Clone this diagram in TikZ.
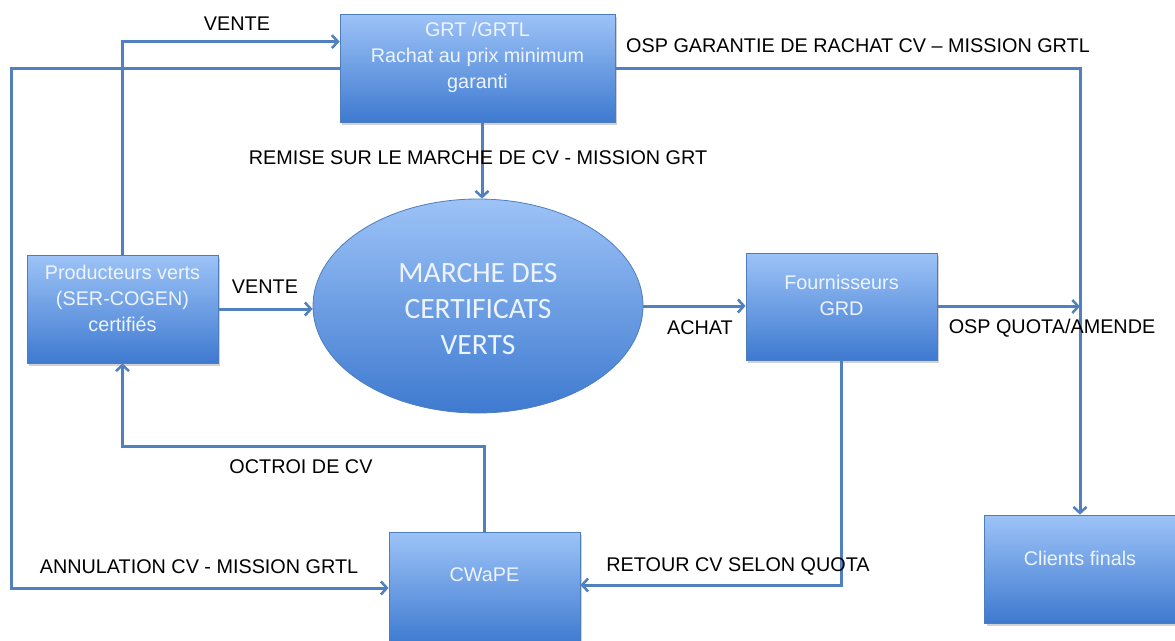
\documentclass[tikz,border=0pt]{standalone}
\usepackage{fontspec}
\setmainfont{Liberation Sans}
\newfontfamily\marketfont{Carlito}
\usetikzlibrary{positioning,shapes.geometric,shadows,arrows.meta}

\definecolor{boxtop}{HTML}{9DC3F7}
\definecolor{boxbottom}{HTML}{3E7AD0}
\definecolor{boxline}{HTML}{4D7EBB}
\definecolor{boxtext}{HTML}{EEF4FF}
\definecolor{flowline}{HTML}{5080BE}

\begin{document}
\begin{tikzpicture}
  [x=1pt, y=-1pt,
   font=\fontsize{19.8}{24}\selectfont,
   box/.style={draw=boxline, line width=0.8pt, top color=boxtop, bottom color=boxbottom,
               drop shadow={shadow xshift=2pt, shadow yshift=-3pt, opacity=0.3, fill=black!60},
               minimum width=191pt, minimum height=108pt, inner sep=0pt},
   box text/.style={text=boxtext, align=center, font=\fontsize{19.8}{26}\selectfont, inner sep=0pt},
   flow/.style={draw=flowline, line width=3pt, >={Straight Barb[length=6pt, width=13pt, line width=2.5pt]}, ->},
   flow label/.style={text=black, inner sep=0pt}]

  \useasboundingbox (0,0) rectangle (1175,640);

  % boxes
  \node [box, minimum width=275pt] (grt) at (477.5,68) {};
  \node [box text] (grt-text) at ([yshift=11pt]grt.center) {GRT /GRTL\\Rachat au prix minimum\\garanti};

  \node [box] (prod) at (122.5,309) {};
  \node [box text] (prod-text) at ([yshift=11pt]prod.center) {Producteurs verts\\(SER-COGEN)\\certifiés};

  \node [box, minimum height=107pt] (fourn) at (841.5,306.5) {};
  \node [box text] (fourn-text) at ([yshift=11pt]fourn.center) {Fournisseurs\\GRD};

  \node [box, minimum height=112pt] (cwape) at (484.5,588) {};
  \node [box text] (cwape-text) at ([yshift=13pt]cwape.center) {CWaPE};

  \node [box] (clients) at (1080,569) {};
  \node [box text] (clients-text) at ([yshift=11pt]clients.center) {Clients finals};

  \node [ellipse, draw=boxline, line width=0.8pt, top color=boxtop, bottom color=boxbottom,
         minimum width=330pt, minimum height=214pt, inner sep=0pt] (market) at (478,306) {};
  \node [box text, font=\marketfont\fontsize{29.5}{36}\selectfont] (market-text)
        at ([yshift=-3pt]market.center) {MARCHE DES\\CERTIFICATS\\VERTS};

  % flows
  \draw [flow] (prod.north) |- ([yshift=-28pt]grt.north west);
  \draw [flow] (grt.west) -- ++(-328,0) |- (cwape.west);
  \draw [flow] (grt.east) -| (clients.north);
  \draw [flow] ([xshift=4.5pt]grt.south) -- ([xshift=4pt]market.north);
  \draw [flow] (prod.east) -- (prod.east -| market.west);
  \draw [flow] (market.east) -- (market.east -| fourn.west);
  \draw [flow] (fourn.east) -- (fourn.east -| clients.north);
  \draw [flow] (fourn.south) |- ([yshift=3pt]cwape.east);
  \draw [flow] (cwape.north) -- ++(0,-85) -| (prod.south);

  % labels
  \node [flow label] (l-vente-grt)  at (237,24)  {VENTE};
  \node [flow label] (l-osp-rachat) at (858,46)  {OSP GARANTIE DE RACHAT CV – MISSION GRTL};
  \node [flow label] (l-remise)     at (478,158) {REMISE SUR LE MARCHE DE CV - MISSION GRT};
  \node [flow label] (l-vente-mkt)  at (265,287) {VENTE};
  \node [flow label] (l-achat)      at (700,328) {ACHAT};
  \node [flow label] (l-osp-quota)  at (1052,328) {OSP QUOTA/AMENDE};
  \node [flow label] (l-octroi)     at (301,467) {OCTROI DE CV};
  \node [flow label] (l-annul)      at (199,567) {ANNULATION CV - MISSION GRTL};
  \node [flow label] (l-retour)     at (738,566) {RETOUR CV SELON QUOTA};
\end{tikzpicture}
\end{document}
